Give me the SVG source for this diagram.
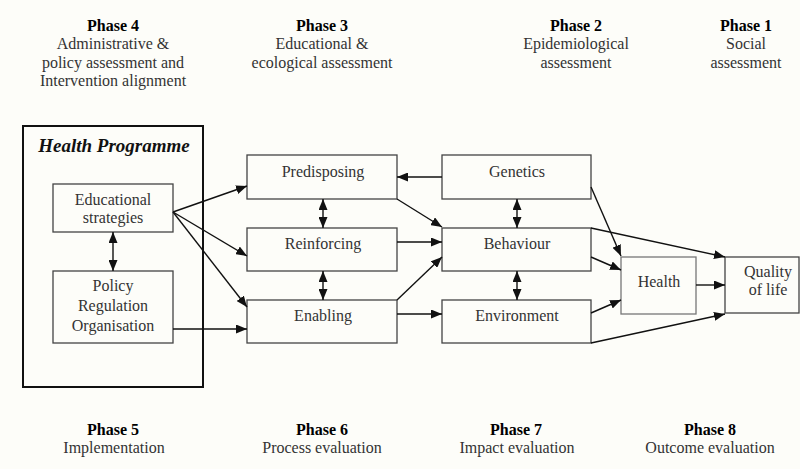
<svg xmlns="http://www.w3.org/2000/svg" width="800" height="469" viewBox="0 0 800 469">
<defs>
<style>
text{font-family:'Liberation Serif','DejaVu Serif',serif;font-size:16px;fill:#333;text-anchor:middle}
.ph{font-weight:bold;fill:#000}
.hp{font-weight:bold;font-style:italic;font-size:19px;fill:#111}
.box{fill:#fdfdf9;stroke:#444;stroke-width:1.3}
.hl{fill:#fdfdf9;stroke:#777;stroke-width:1.3}
.outer{fill:none;stroke:#111;stroke-width:2}
.c line{stroke:#111;stroke-width:1.4;marker-end:url(#ah)}
.c line.d{marker-start:url(#ah)}
</style>
<marker id="ah" markerUnits="userSpaceOnUse" markerWidth="11" markerHeight="9" refX="11" refY="4.5" orient="auto-start-reverse">
<path d="M0,0 L11,4.5 L0,9 z" fill="#111"/>
</marker>
</defs>
<rect x="0" y="0" width="800" height="469" fill="#fdfdf9"/>
<g id="phase-titles" font-family="Liberation Serif, serif">
<text class="ph" x="113" y="31">Phase 4</text>
<text x="113" y="49">Administrative &amp;</text>
<text x="113" y="68">policy assessment and</text>
<text x="113" y="86">Intervention alignment</text>
<text class="ph" x="322" y="31">Phase 3</text>
<text x="322" y="49">Educational &amp;</text>
<text x="322" y="68">ecological assessment</text>
<text class="ph" x="576" y="31">Phase 2</text>
<text x="576" y="49">Epidemiological</text>
<text x="576" y="68">assessment</text>
<text class="ph" x="746" y="31">Phase 1</text>
<text x="746" y="49">Social</text>
<text x="746" y="68">assessment</text>
<text class="ph" x="113" y="435">Phase 5</text>
<text x="114" y="453">Implementation</text>
<text class="ph" x="322" y="435">Phase 6</text>
<text x="322" y="453">Process evaluation</text>
<text class="ph" x="516" y="435">Phase 7</text>
<text x="517" y="453">Impact evaluation</text>
<text class="ph" x="710" y="435">Phase 8</text>
<text x="710" y="453">Outcome evaluation</text>
</g>
<g id="health-programme">
<rect class="outer" x="23" y="126" width="180" height="261"/>
<text class="hp" x="114" y="152">Health Programme</text>
</g>
<g id="educational-strategies">
<rect class="box" x="53" y="184" width="120" height="48"/>
<text x="113" y="205">Educational</text>
<text x="113" y="223">strategies</text>
</g>
<g id="policy">
<rect class="box" x="53" y="271" width="120" height="72"/>
<text x="113" y="291">Policy</text>
<text x="113" y="311">Regulation</text>
<text x="113" y="331">Organisation</text>
</g>
<g id="predisposing">
<rect class="box" x="247" y="155" width="150" height="44"/>
<text x="323" y="177">Predisposing</text>
</g>
<g id="reinforcing">
<rect class="box" x="247" y="228" width="150" height="43"/>
<text x="323" y="249">Reinforcing</text>
</g>
<g id="enabling">
<rect class="box" x="247" y="300" width="150" height="43"/>
<text x="323" y="321">Enabling</text>
</g>
<g id="genetics">
<rect class="box" x="442" y="155" width="149" height="44"/>
<text x="517" y="177">Genetics</text>
</g>
<g id="behaviour">
<rect class="box" x="442" y="228" width="149" height="43"/>
<text x="517" y="249">Behaviour</text>
</g>
<g id="environment">
<rect class="box" x="442" y="300" width="149" height="43"/>
<text x="517" y="321">Environment</text>
</g>
<g id="health">
<rect class="hl" x="621" y="257" width="75" height="57"/>
<text x="659" y="287">Health</text>
</g>
<g id="quality-of-life">
<rect class="box" x="725" y="257" width="74" height="56"/>
<text x="768" y="277">Quality</text>
<text x="768" y="295">of life</text>
</g>
<g id="connectors" class="c">
<line x1="173" y1="212" x2="247" y2="186"/>
<line x1="173" y1="212" x2="247" y2="256"/>
<line x1="173" y1="212" x2="247" y2="307"/>
<line x1="173" y1="329" x2="247" y2="329"/>
<line x1="442" y1="177" x2="397" y2="177"/>
<line x1="397" y1="199" x2="442" y2="227"/>
<line x1="397" y1="242" x2="442" y2="242"/>
<line x1="397" y1="300" x2="442" y2="257"/>
<line x1="397" y1="314" x2="442" y2="314"/>
<line x1="591" y1="187" x2="621" y2="256"/>
<line x1="591" y1="228" x2="725" y2="257"/>
<line x1="591" y1="257" x2="621" y2="270"/>
<line x1="591" y1="313" x2="621" y2="300"/>
<line x1="591" y1="343" x2="725" y2="314"/>
<line x1="696" y1="285" x2="725" y2="285"/>
<line class="d" x1="113" y1="232" x2="113" y2="271"/>
<line class="d" x1="323" y1="199" x2="323" y2="228"/>
<line class="d" x1="323" y1="271" x2="323" y2="300"/>
<line class="d" x1="517" y1="199" x2="517" y2="228"/>
<line class="d" x1="517" y1="271" x2="517" y2="300"/>
</g>
</svg>
